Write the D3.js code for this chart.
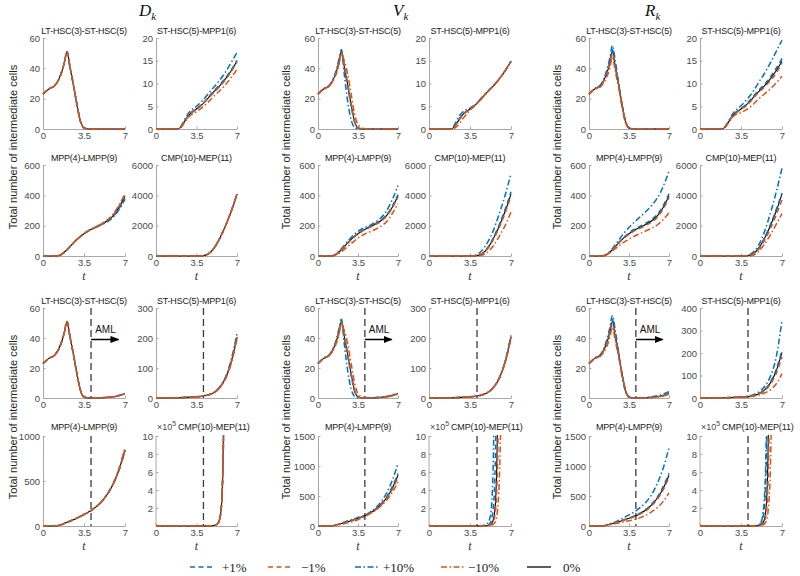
<!DOCTYPE html>
<html><head><meta charset="utf-8">
<script src="https://cdn.jsdelivr.net/npm/d3@7"></script>
<style>body{margin:0;background:#fff}svg{display:block}</style>
</head><body>
<svg id="c" width="800" height="576"></svg>
<script>
// ------------------------------- DATA -------------------------------
const columnNames = ["D", "V", "R"];               // D_k, V_k, R_k
const panelTitles = [
  ["LT-HSC(3)-ST-HSC(5)", "ST-HSC(5)-MPP1(6)"],
  ["MPP(4)-LMPP(9)", "CMP(10)-MEP(11)"],
  ["LT-HSC(3)-ST-HSC(5)", "ST-HSC(5)-MPP1(6)"],
  ["MPP(4)-LMPP(9)", "CMP(10)-MEP(11)"]
];
const yAxisLabel = "Total number of intermediate cells";
const xAxisLabel = "t";
const xTickValues = [0, 3.5, 7];
const xTickLabels = ["0", "3.5", "7"];
const amlTime = 4.1;
const amlLabel = "AML";
const legendLabels = ["+1%", "\u22121%", "+10%", "\u221210%", "0%"];
const seriesKeys = ["p1", "m1", "p10", "m10", "z"];

// y ticks
const yTicksLT = [0, 20, 40, 60];
const yTicksST = [0, 5, 10, 15, 20];
const yTicksMPP = [0, 200, 400, 600];
const yTicksCMP = [0, 2000, 4000, 6000];
const yTicksSTa = [0, 100, 200, 300];
const yTicksSTaR = [0, 100, 200, 300, 400];
const yTicksMPPaD = [0, 500, 1000];
const yTicksMPPa = [0, 500, 1000, 1500];
const yTicksCMPa = [2, 4, 6, 8, 10];   // x 10^5

// time grids
const tLT = [0, 0.5, 1, 1.5, 1.8, 2.05, 2.3, 2.6, 2.9, 3.2, 3.5, 4, 5, 6, 7];
const tST = [0, 1, 1.8, 2.1, 2.5, 2.9, 3.5, 4, 4.5, 5, 5.5, 6, 6.5, 7];
const tMPP = [0, 1, 1.4, 2, 2.5, 3, 3.5, 4, 4.5, 5, 5.5, 6, 6.5, 7];
const tCMP = [0, 3.5, 4, 4.5, 5, 5.5, 6, 6.5, 7];
const tSTa = [0, 2, 3, 4, 4.5, 5, 5.5, 6, 6.5, 7];
const tCMPa = [0, 4, 4.5, 4.8, 5, 5.1, 5.2, 5.3, 5.4, 5.5, 5.6, 5.7, 5.8, 5.9, 6, 6.1, 6.2, 6.4];

// LT-HSC(3)-ST-HSC(5)
const LT_z = [23, 26.4, 28.6, 35.5, 43, 51, 41, 29, 16, 5, 0.7, 0, 0, 0, 0];
const Vk_LT_p10 = [23, 26.7, 29, 36.5, 45, 52.5, 36, 18, 6, 1, 0, 0, 0, 0, 0];
const Vk_LT_m10 = [23, 26.2, 28.3, 34.5, 41, 49, 45, 36, 23, 10, 3, 0.3, 0, 0, 0];
const Vk_LT_p1 = [23, 26.4, 28.7, 35.7, 43.3, 51.2, 40, 28, 15, 4.5, 0.6, 0, 0, 0, 0];
const Vk_LT_m1 = [23, 26.4, 28.5, 35.3, 42.7, 50.8, 42, 30, 17, 5.5, 0.8, 0, 0, 0, 0];
const Rk_LT_p10 = [23, 26.7, 29, 37.5, 46, 55, 45, 30, 14, 4, 0.6, 0, 0, 0, 0];
const Rk_LT_m10 = [23, 26.1, 27.8, 33.5, 39.5, 47, 38, 27, 15, 4.5, 0.6, 0, 0, 0, 0];
const Rk_LT_p1 = [23, 26.5, 28.8, 36, 43.8, 52.3, 42, 29.5, 16, 5, 0.7, 0, 0, 0, 0];
const Rk_LT_m1 = [23, 26.3, 28.4, 35, 42.2, 49.8, 40, 28.5, 16, 5, 0.7, 0, 0, 0, 0];
// LT-HSC with AML (same grid)
const LTa_z = [23, 26.4, 28.6, 35.5, 43, 51, 41, 29, 16, 5, 0.7, 0, 0.2, 0.8, 2.8];
const Vk_LTa_p10 = [23, 26.7, 29, 36.5, 45, 52.5, 36, 18, 6, 1, 0, 0, 0.3, 1.1, 3.2];
const Vk_LTa_m10 = [23, 26.2, 28.3, 34.5, 41, 49, 45, 36, 23, 10, 3, 0.3, 0.2, 0.7, 2.6];
const Vk_LTa_p1 = [23, 26.4, 28.7, 35.7, 43.3, 51.2, 40, 28, 15, 4.5, 0.6, 0, 0.2, 0.8, 2.9];
const Vk_LTa_m1 = [23, 26.4, 28.5, 35.3, 42.7, 50.8, 42, 30, 17, 5.5, 0.8, 0, 0.2, 0.8, 2.7];
const Rk_LTa_p10 = [23, 26.7, 29, 37.5, 46, 55, 45, 30, 14, 4, 0.6, 0, 0.4, 1.5, 4.2];
const Rk_LTa_m10 = [23, 26.1, 27.8, 33.5, 39.5, 47, 38, 27, 15, 4.5, 0.6, 0, 0.2, 0.6, 2.2];
const Rk_LTa_p1 = [23, 26.5, 28.8, 36, 43.8, 52.3, 42, 29.5, 16, 5, 0.7, 0, 0.2, 0.9, 3];
const Rk_LTa_m1 = [23, 26.3, 28.4, 35, 42.2, 49.8, 40, 28.5, 16, 5, 0.7, 0, 0.2, 0.8, 2.7];

// ST-HSC(5)-MPP1(6)
const ST_z = [0, 0, 0, 0.3, 1.8, 3.2, 4.4, 5.4, 6.8, 8.2, 9.5, 11, 12.8, 14.9];
const Dk_ST_p10 = [0, 0, 0, 0.4, 2.2, 3.8, 5.0, 6.2, 7.7, 9.2, 10.7, 12.5, 14.6, 16.8];
const Dk_ST_m10 = [0, 0, 0, 0.2, 1.5, 2.8, 3.8, 4.7, 5.9, 7.2, 8.4, 9.7, 11.3, 13.1];
const Dk_ST_p1 = [0, 0, 0, 0.3, 1.9, 3.3, 4.5, 5.5, 6.9, 8.4, 9.7, 11.2, 13, 15.1];
const Dk_ST_m1 = [0, 0, 0, 0.3, 1.8, 3.1, 4.3, 5.3, 6.7, 8.0, 9.3, 10.8, 12.6, 14.7];
const Vk_ST_p10 = [0, 0, 0, 0.6, 2.6, 3.8, 4.6, 5.5, 6.9, 8.2, 9.5, 11, 12.8, 14.9];
const Vk_ST_m10 = [0, 0, 0, 0.1, 0.9, 2.3, 4.1, 5.3, 6.7, 8.1, 9.5, 11, 12.8, 14.8];
const Vk_ST_p1 = [0, 0, 0, 0.35, 1.9, 3.3, 4.4, 5.4, 6.8, 8.2, 9.5, 11, 12.8, 14.9];
const Vk_ST_m1 = [0, 0, 0, 0.25, 1.7, 3.1, 4.4, 5.4, 6.8, 8.2, 9.5, 11, 12.8, 14.9];
const Rk_ST_p10 = [0, 0, 0, 0.4, 2.1, 3.7, 5.1, 6.5, 8.1, 10.2, 12.2, 14.5, 17, 19.5];
const Rk_ST_m10 = [0, 0, 0, 0.3, 1.6, 2.9, 3.6, 4.3, 5.3, 6.6, 7.7, 8.8, 10.1, 11.6];
const Rk_ST_p1 = [0, 0, 0, 0.3, 1.8, 3.3, 4.5, 5.6, 7.0, 8.5, 9.8, 11.4, 13.3, 15.5];
const Rk_ST_m1 = [0, 0, 0, 0.3, 1.8, 3.1, 4.3, 5.2, 6.6, 8.0, 9.2, 10.6, 12.3, 14.4];

// ST-HSC(5)-MPP1(6) with AML
const STa_z = [0, 1, 3, 6, 10, 18, 35, 66, 120, 203];
const Dk_STa_p10 = [0, 1, 3, 6, 10, 19, 37, 70, 128, 215];
const Dk_STa_m10 = [0, 1, 3, 6, 10, 17, 33, 63, 115, 197];
const Vk_STa_p10 = [0, 1, 3, 6, 10, 18, 36, 68, 123, 209];
const Vk_STa_m10 = [0, 1, 3, 6, 10, 18, 34, 65, 118, 200];
const Rk_STa_p10 = [0, 1, 3.5, 8, 14, 26, 50, 95, 180, 345];
const Rk_STa_m10 = [0, 1, 2.5, 5, 8, 13, 22, 36, 62, 108];
const Rk_STa_p1 = [0, 1, 3, 6, 10, 19, 36, 69, 126, 212];
const Rk_STa_m1 = [0, 1, 3, 6, 9.5, 17, 32, 60, 108, 182];

// MPP(4)-LMPP(9)
const MPP_z = [0, 0, 4, 38, 78, 116, 147, 172, 190, 210, 232, 266, 322, 395];
const Dk_MPP_p10 = [0, 0, 4, 38, 78, 116, 147, 171, 188, 206, 226, 256, 308, 374];
const Dk_MPP_m10 = [0, 0, 4, 38, 78, 116, 147, 173, 192, 214, 239, 278, 338, 410];
const Dk_MPP_p1 = [0, 0, 4, 38, 78, 116, 147, 172, 189, 208, 229, 261, 314, 380];
const Dk_MPP_m1 = [0, 0, 4, 38, 78, 116, 147, 172, 191, 212, 235, 272, 330, 405];
const Vk_MPP_p10 = [0, 0, 5, 44, 88, 130, 163, 186, 200, 222, 250, 298, 372, 465];
const Vk_MPP_m10 = [0, 0, 2, 26, 56, 88, 118, 142, 158, 175, 196, 226, 280, 345];
const Vk_MPP_p1 = [0, 0, 4, 39, 80, 118, 150, 175, 193, 213, 236, 271, 329, 405];
const Vk_MPP_m1 = [0, 0, 4, 37, 76, 114, 144, 169, 187, 207, 228, 261, 316, 388];
const Rk_MPP_p10 = [0, 0, 5, 44, 95, 145, 188, 226, 260, 295, 335, 385, 460, 560];
const Rk_MPP_m10 = [0, 0, 3, 30, 60, 88, 110, 132, 149, 166, 184, 206, 240, 285];
const Rk_MPP_p1 = [0, 0, 4, 39, 80, 119, 152, 178, 197, 218, 241, 276, 333, 410];
const Rk_MPP_m1 = [0, 0, 4, 37, 76, 113, 143, 167, 184, 203, 224, 257, 311, 385];

// MPP(4)-LMPP(9) with AML
const MPPa_z = [0, 0, 8, 38, 65, 95, 128, 163, 210, 270, 355, 470, 630, 845];
const Dk_MPPa_p10 = [0, 0, 8, 38, 65, 95, 128, 163, 209, 268, 352, 464, 622, 835];
const Dk_MPPa_m10 = [0, 0, 8, 38, 65, 95, 128, 163, 211, 273, 360, 478, 645, 872];
const Vk_MPPa_p10 = [0, 0, 10, 45, 80, 112, 142, 172, 222, 295, 400, 550, 760, 1040];
const Vk_MPPa_m10 = [0, 0, 5, 27, 48, 72, 105, 148, 198, 258, 335, 430, 560, 730];
const Vk_MPPa_p1 = [0, 0, 8, 39, 67, 98, 131, 166, 214, 277, 366, 486, 655, 875];
const Vk_MPPa_m1 = [0, 0, 8, 37, 63, 92, 125, 160, 205, 263, 344, 455, 608, 810];
const Rk_MPPa_p10 = [0, 0, 10, 45, 85, 135, 185, 240, 310, 400, 530, 720, 970, 1300];
const Rk_MPPa_m10 = [0, 0, 6, 27, 47, 66, 86, 110, 140, 180, 240, 310, 410, 550];
const Rk_MPPa_p1 = [0, 0, 8, 39, 68, 100, 134, 170, 218, 280, 370, 490, 660, 880];
const Rk_MPPa_m1 = [0, 0, 8, 37, 62, 91, 122, 156, 201, 258, 340, 452, 605, 812];

// CMP(10)-MEP(11)
const CMP_z = [0, 0, 15, 130, 500, 1150, 1980, 2950, 4080];
const Vk_CMP_p10 = [0, 10, 80, 350, 900, 1700, 2800, 4000, 5450];
const Vk_CMP_m10 = [0, 0, 0, 50, 260, 680, 1300, 2000, 2900];
const Vk_CMP_p1 = [0, 0, 20, 150, 540, 1220, 2080, 3080, 4230];
const Vk_CMP_m1 = [0, 0, 10, 115, 470, 1090, 1890, 2830, 3950];
const Rk_CMP_p10 = [0, 0, 30, 220, 700, 1600, 2800, 4200, 5800];
const Rk_CMP_m10 = [0, 0, 0, 50, 300, 780, 1380, 2080, 2800];
const Rk_CMP_p1 = [0, 0, 16, 135, 520, 1190, 2050, 3050, 4150];
const Rk_CMP_m1 = [0, 0, 10, 110, 430, 1020, 1800, 2700, 3700];

// CMP(10)-MEP(11) with AML (units of 10^5)
const CMPa_z = [0, 0, 0.01, 0.03, 0.06, 0.09, 0.14, 0.22, 0.4, 0.75, 1.5, 3.2, 7.5, 16, 35, 70, 140, 500];
const Vk_CMPa_p10 = [0, 0, 0.03, 0.12, 0.3, 0.5, 0.9, 1.7, 3.5, 8, 18, 40, 90, 200, 400, 800, 1500, 5000];
const Vk_CMPa_m10 = [0, 0, 0, 0.01, 0.02, 0.03, 0.05, 0.08, 0.12, 0.2, 0.35, 0.6, 1.2, 2.5, 5, 10, 20, 80];
const Vk_CMPa_p1 = [0, 0, 0.02, 0.05, 0.1, 0.17, 0.3, 0.55, 1.1, 2.2, 4.5, 10, 22, 48, 100, 200, 400, 1500];
const Vk_CMPa_m1 = [0, 0, 0.01, 0.02, 0.04, 0.06, 0.1, 0.16, 0.28, 0.5, 1, 2, 4.5, 10, 22, 48, 100, 400];
const Rk_CMPa_p10 = [0, 0, 0.02, 0.07, 0.15, 0.25, 0.45, 0.8, 1.6, 3.2, 6.5, 14, 30, 65, 140, 300, 600, 2000];
const Rk_CMPa_m10 = [0, 0, 0, 0.01, 0.02, 0.03, 0.05, 0.08, 0.13, 0.22, 0.4, 0.75, 1.5, 3, 6, 12.5, 25, 100];
const Rk_CMPa_p1 = [0, 0, 0.02, 0.05, 0.1, 0.17, 0.3, 0.55, 1.1, 2.2, 4.5, 10, 22, 48, 100, 200, 400, 1500];
const Rk_CMPa_m1 = [0, 0, 0.01, 0.02, 0.04, 0.06, 0.1, 0.16, 0.28, 0.5, 1, 2, 4.5, 10, 22, 48, 100, 400];

// ------------------------------ PANELS ------------------------------
function S(p1, m1, p10, m10, z) { return {p1, m1, p10, m10, z}; }
const panels = [
  // D_k
  {c:0, r:0, p:0, t:tLT, yt:yTicksLT, s:S(LT_z, LT_z, LT_z, LT_z, LT_z)},
  {c:0, r:0, p:1, t:tST, yt:yTicksST, s:S(Dk_ST_p1, Dk_ST_m1, Dk_ST_p10, Dk_ST_m10, ST_z)},
  {c:0, r:1, p:0, t:tMPP, yt:yTicksMPP, s:S(Dk_MPP_p1, Dk_MPP_m1, Dk_MPP_p10, Dk_MPP_m10, MPP_z)},
  {c:0, r:1, p:1, t:tCMP, yt:yTicksCMP, s:S(CMP_z, CMP_z, CMP_z, CMP_z, CMP_z)},
  {c:0, r:2, p:0, t:tLT, yt:yTicksLT, s:S(LTa_z, LTa_z, LTa_z, LTa_z, LTa_z)},
  {c:0, r:2, p:1, t:tSTa, yt:yTicksSTa, s:S(STa_z, STa_z, Dk_STa_p10, Dk_STa_m10, STa_z)},
  {c:0, r:3, p:0, t:tMPP, yt:yTicksMPPaD, s:S(MPPa_z, MPPa_z, Dk_MPPa_p10, Dk_MPPa_m10, MPPa_z)},
  {c:0, r:3, p:1, t:tCMPa, yt:yTicksCMPa, exp:true, s:S(CMPa_z, CMPa_z, CMPa_z, CMPa_z, CMPa_z)},
  // V_k
  {c:1, r:0, p:0, t:tLT, yt:yTicksLT, s:S(Vk_LT_p1, Vk_LT_m1, Vk_LT_p10, Vk_LT_m10, LT_z)},
  {c:1, r:0, p:1, t:tST, yt:yTicksST, s:S(Vk_ST_p1, Vk_ST_m1, Vk_ST_p10, Vk_ST_m10, ST_z)},
  {c:1, r:1, p:0, t:tMPP, yt:yTicksMPP, s:S(Vk_MPP_p1, Vk_MPP_m1, Vk_MPP_p10, Vk_MPP_m10, MPP_z)},
  {c:1, r:1, p:1, t:tCMP, yt:yTicksCMP, s:S(Vk_CMP_p1, Vk_CMP_m1, Vk_CMP_p10, Vk_CMP_m10, CMP_z)},
  {c:1, r:2, p:0, t:tLT, yt:yTicksLT, s:S(Vk_LTa_p1, Vk_LTa_m1, Vk_LTa_p10, Vk_LTa_m10, LTa_z)},
  {c:1, r:2, p:1, t:tSTa, yt:yTicksSTa, s:S(STa_z, STa_z, Vk_STa_p10, Vk_STa_m10, STa_z)},
  {c:1, r:3, p:0, t:tMPP, yt:yTicksMPPa, s:S(Vk_MPPa_p1, Vk_MPPa_m1, Vk_MPPa_p10, Vk_MPPa_m10, MPPa_z)},
  {c:1, r:3, p:1, t:tCMPa, yt:yTicksCMPa, exp:true, s:S(Vk_CMPa_p1, Vk_CMPa_m1, Vk_CMPa_p10, Vk_CMPa_m10, CMPa_z)},
  // R_k
  {c:2, r:0, p:0, t:tLT, yt:yTicksLT, s:S(Rk_LT_p1, Rk_LT_m1, Rk_LT_p10, Rk_LT_m10, LT_z)},
  {c:2, r:0, p:1, t:tST, yt:yTicksST, s:S(Rk_ST_p1, Rk_ST_m1, Rk_ST_p10, Rk_ST_m10, ST_z)},
  {c:2, r:1, p:0, t:tMPP, yt:yTicksMPP, s:S(Rk_MPP_p1, Rk_MPP_m1, Rk_MPP_p10, Rk_MPP_m10, MPP_z)},
  {c:2, r:1, p:1, t:tCMP, yt:yTicksCMP, s:S(Rk_CMP_p1, Rk_CMP_m1, Rk_CMP_p10, Rk_CMP_m10, CMP_z)},
  {c:2, r:2, p:0, t:tLT, yt:yTicksLT, s:S(Rk_LTa_p1, Rk_LTa_m1, Rk_LTa_p10, Rk_LTa_m10, LTa_z)},
  {c:2, r:2, p:1, t:tSTa, yt:yTicksSTaR, s:S(Rk_STa_p1, Rk_STa_m1, Rk_STa_p10, Rk_STa_m10, STa_z)},
  {c:2, r:3, p:0, t:tMPP, yt:yTicksMPPa, s:S(Rk_MPPa_p1, Rk_MPPa_m1, Rk_MPPa_p10, Rk_MPPa_m10, MPPa_z)},
  {c:2, r:3, p:1, t:tCMPa, yt:yTicksCMPa, exp:true, s:S(Rk_CMPa_p1, Rk_CMPa_m1, Rk_CMPa_p10, Rk_CMPa_m10, CMPa_z)}
];

// ------------------------------ LAYOUT ------------------------------
const colX = [[[43,125],[156,237]], [[318,398],[429,511]], [[589,669],[700,782]]];
const rowY = [[38,129],[165,256],[308,398],[436,526]];
const titleBase = [34, 161, 304, 430];
const headerX = [139, 393, 645];
const yLabelX = [13, 286, 557];
const SANS = "'Liberation Sans', Arial, Helvetica, sans-serif";
const SERIF = "'Liberation Serif', 'Times New Roman', serif";
const style = {
  z:   {color:"#000000", dash:null, w:1.1},
  p1:  {color:"#0072BD", dash:"5,3.5", w:1.5},
  m1:  {color:"#D95319", dash:"5,3.5", w:1.5},
  p10: {color:"#0072BD", dash:"6,2.5,1.5,2.5", w:1.5},
  m10: {color:"#D95319", dash:"6,2.5,1.5,2.5", w:1.5}
};
const drawOrder = ["z", "p1", "p10", "m1", "m10"];

const svg = d3.select("#c");
svg.append("rect").attr("width", 800).attr("height", 576).attr("fill", "#fff");
const defs = svg.append("defs");
defs.append("marker").attr("id", "arr").attr("viewBox", "0 0 10 10").attr("refX", 9).attr("refY", 5)
  .attr("markerWidth", 6).attr("markerHeight", 6).attr("orient", "auto")
  .append("path").attr("d", "M0,1 L10,5 L0,9 Z").attr("fill", "#000");

// column headers
columnNames.forEach((n, i) => {
  const t = svg.append("text").attr("x", headerX[i]).attr("y", 16)
    .attr("font-family", SERIF).attr("font-size", 17).attr("font-style", "italic").attr("fill", "#111");
  t.append("tspan").text(n);
  t.append("tspan").attr("font-size", 11).attr("dy", 4).text("k");
});

// y labels
yLabelX.forEach(x => {
  [[0,1],[2,3]].forEach(([a,b]) => {
    const cy = (rowY[a][0] + rowY[b][1]) / 2;
    svg.append("text").attr("transform", `translate(${x},${cy}) rotate(-90)`)
      .attr("text-anchor", "middle").attr("dominant-baseline", "central")
      .attr("font-family", SANS).attr("font-size", 11).attr("fill", "#262626").text(yAxisLabel);
  });
});

panels.forEach((P, k) => {
  const [x0, x1] = colX[P.c][P.p];
  const [y0, y1] = rowY[P.r];
  const yMax = P.yt[P.yt.length - 1];
  const x = d3.scaleLinear().domain([0, 7]).range([x0, x1]);
  const y = d3.scaleLinear().domain([0, yMax]).range([y1, y0]);
  const g = svg.append("g");

  // axes
  const ax = g.append("g").attr("transform", `translate(0,${y1})`)
    .call(d3.axisBottom(x).tickValues(xTickValues).tickFormat((d, i) => xTickLabels[i])
      .tickSizeInner(-2.5).tickSizeOuter(0).tickPadding(3));
  const ay = g.append("g").attr("transform", `translate(${x0},0)`)
    .call(d3.axisLeft(y).tickValues(P.yt).tickFormat(d3.format("d"))
      .tickSizeInner(-2.5).tickSizeOuter(0).tickPadding(3));
  [ax, ay].forEach(a => {
    a.select(".domain").attr("stroke", "#a8a8a8").attr("stroke-width", 1);
    a.selectAll(".tick line").attr("stroke", "#a8a8a8");
    a.selectAll("text").attr("font-family", SANS).attr("font-size", 9.5).attr("fill", "#4a4a4a");
  });
  if (P.yt[0] !== 0) {
    ay.select(".domain").attr("d", `M0,${y1}V${y0}`);
  }

  // title
  if (P.exp) {
    const e = g.append("text").attr("x", x0 + 1).attr("y", titleBase[P.r])
      .attr("font-family", SANS).attr("font-size", 9).attr("fill", "#4a4a4a");
    e.append("tspan").text("\u00d710");
    e.append("tspan").attr("font-size", 7).attr("dy", -4).text("5");
    g.append("text").attr("x", x0 + 22).attr("y", titleBase[P.r])
      .attr("font-family", SANS).attr("font-size", 9).attr("letter-spacing", -0.15)
      .attr("fill", "#1a1a1a").text(panelTitles[P.r][P.p]);
  } else {
    g.append("text").attr("x", (x0 + x1) / 2).attr("y", titleBase[P.r]).attr("text-anchor", "middle")
      .attr("font-family", SANS).attr("font-size", 9).attr("letter-spacing", -0.2)
      .attr("fill", "#1a1a1a").text(panelTitles[P.r][P.p]);
  }
  if (P.r === 1 || P.r === 3) {
    g.append("text").attr("x", (x0 + x1) / 2).attr("y", y1 + 24).attr("text-anchor", "middle")
      .attr("font-family", SERIF).attr("font-style", "italic").attr("font-size", 12).attr("fill", "#333").text(xAxisLabel);
  }

  // AML marker
  if (P.r >= 2) {
    g.append("line").attr("x1", x(amlTime)).attr("x2", x(amlTime)).attr("y1", y0).attr("y2", y1)
      .attr("stroke", "#3a3a3a").attr("stroke-width", 1.3).attr("stroke-dasharray", "7,4");
    if (P.r === 2 && P.p === 0) {
      g.append("line").attr("x1", x(amlTime)).attr("x2", x(amlTime + 2.35)).attr("y1", y(39)).attr("y2", y(39))
        .attr("stroke", "#000").attr("stroke-width", 1.5).attr("marker-end", "url(#arr)");
      g.append("text").attr("x", x(amlTime + 0.35)).attr("y", y(43.5))
        .attr("font-family", SANS).attr("font-size", 10).attr("fill", "#111").text(amlLabel);
    }
  }

  // clip & lines
  const cid = "clip" + k;
  defs.append("clipPath").attr("id", cid).append("rect")
    .attr("x", x0 - 1).attr("y", y0 - 1).attr("width", x1 - x0 + 3).attr("height", y1 - y0 + 3);
  const lg = g.append("g").attr("clip-path", `url(#${cid})`);
  drawOrder.forEach(key => {
    const vals = P.s[key];
    const line = d3.line().x((d, i) => x(P.t[i])).y(d => y(Math.min(d, yMax * 3))).curve(d3.curveMonotoneX);
    lg.append("path").datum(vals).attr("d", line).attr("fill", "none")
      .attr("stroke", style[key].color).attr("stroke-width", style[key].w)
      .attr("stroke-dasharray", style[key].dash).attr("stroke-linejoin", "round");
  });
});

// legend
const legendX = [190, 268, 355, 441, 527];
const legendTextX = [222, 301, 383, 468, 563];
const legendY = 567;
seriesKeys.forEach((key, i) => {
  svg.append("line").attr("x1", legendX[i]).attr("x2", legendX[i] + 24).attr("y1", legendY).attr("y2", legendY)
    .attr("stroke", key === "z" ? "#333" : style[key].color).attr("stroke-width", key === "z" ? 1.6 : 1.5)
    .attr("stroke-dasharray", style[key].dash);
  svg.append("text").attr("x", legendTextX[i]).attr("y", legendY).attr("dominant-baseline", "central")
    .attr("font-family", SERIF).attr("font-size", 13).attr("fill", "#222").text(legendLabels[i]);
});
</script>
</body></html>
